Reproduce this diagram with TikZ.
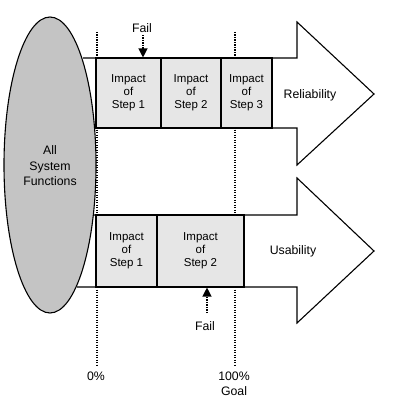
\documentclass[tikz,border=0pt]{standalone}
\usepackage{fontspec}
\setmainfont{Liberation Sans}
\usetikzlibrary{arrows.meta,shapes.geometric}
\definecolor{boxgray}{HTML}{E6E6E6}
\definecolor{ellgray}{HTML}{C4C4C4}
\begin{document}
\begin{tikzpicture}[x=1pt,y=-1pt,
  bigarrow/.style={draw=black,fill=white,line width=1.1pt,line join=miter},
  stepbox/.style={draw=black,fill=boxgray,line width=1.1pt,inner sep=0pt,
    align=center,font=\fontsize{11.5}{13}\selectfont},
  lbl/.style={font=\fontsize{12.3}{15}\selectfont,align=center,inner sep=0pt},
  guide/.style={black,line width=1.2pt,dash pattern=on 1.2pt off 1.3pt},
  failarrow/.style={black,line width=1.2pt,dash pattern=on 1.2pt off 1.3pt,-{Triangle[width=9pt,length=9pt,fill=black]}}]
\useasboundingbox (0,0) rectangle (400,412);
% guides
\coordinate (g0t) at (97,32);
\coordinate (g0b) at (97,366);
\coordinate (g1t) at (235,32);
\coordinate (g1b) at (235,366);
\draw[guide] (g0t) -- (g0b);
\draw[guide] (g1t) -- (g1b);
% arrows
\draw[bigarrow] (83,58) -- (297,58) -- (297,22) -- (374,94) -- (297,165) -- (297,128) -- (83,128);
\draw[bigarrow] (77,215) -- (297,215) -- (297,178) -- (374,251) -- (297,323) -- (297,287) -- (77,287);
% ellipse
\node[draw=black,fill=ellgray,line width=1.1pt,ellipse,minimum width=92pt,minimum height=296pt,inner sep=0pt] (all) at (50,165) {};
\node[lbl,font=\fontsize{12.3}{15.5}\selectfont] (alltxt) at (50,166) {All\\System\\Functions};
% top boxes
\node[stepbox,minimum width=65pt,minimum height=70pt] (b1) at (128.5,93) {Impact\\of\\Step 1};
\node[stepbox,minimum width=60pt,minimum height=70pt] (b2) at (191,93) {Impact\\of\\Step 2};
\node[stepbox,minimum width=51pt,minimum height=70pt] (b3) at (246.5,93) {Impact\\of\\Step 3};
\node[lbl] (rel) at (310,95) {Reliability};
% bottom boxes
\node[stepbox,minimum width=61pt,minimum height=72pt] (c1) at (126.5,251) {Impact\\of\\Step 1};
\node[stepbox,minimum width=87pt,minimum height=72pt] (c2) at (200.5,251) {Impact\\of\\Step 2};
\node[lbl] (usa) at (293,251) {Usability};
% fail markers
\node[lbl] (f1) at (142,28) {Fail};
\coordinate (f1s) at (143,35);
\draw[failarrow] (f1s) -- (b1.north -| f1s);
\node[lbl] (f2) at (205,326) {Fail};
\coordinate (f2s) at (207,313);
\draw[failarrow] (f2s) -- (c2.south -| f2s);
% axis labels
\node[lbl] (p0) at (96,376) {0\%};
\node[lbl] (p100) at (234,384) {100\%\\Goal};
\end{tikzpicture}
\end{document}
